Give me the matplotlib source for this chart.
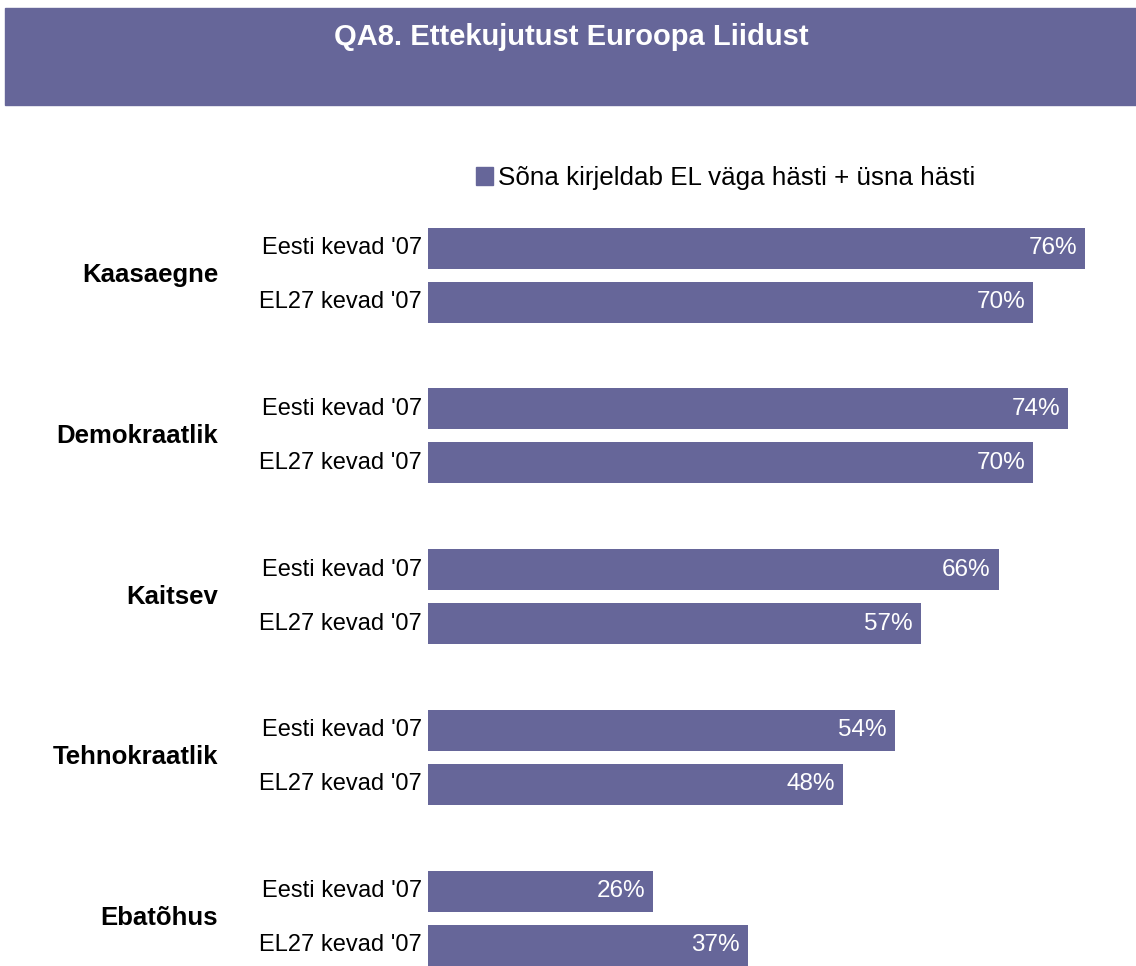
import matplotlib.pyplot as plt
from matplotlib.patches import Rectangle, Patch

plt.rcParams['font.family'] = ['Liberation Sans', 'DejaVu Sans']

title = "QA8. Ettekujutust Euroopa Liidust"
legend_label = "Sõna kirjeldab EL väga hästi + üsna hästi"
groups = ["Kaasaegne", "Demokraatlik", "Kaitsev", "Tehnokraatlik", "Ebatõhus"]
series = ["Eesti kevad '07", "EL27 kevad '07"]
eesti = [76, 74, 66, 54, 26]
el27 = [70, 70, 57, 48, 37]

color = "#666699"
W, H = 1136, 966
px_per_pct = 8.645

fig = plt.figure(figsize=(W / 100, H / 100), dpi=100)

# title band
fig.patches.append(Rectangle((5 / W, 1 - 105 / H), 1131 / W, 97 / H,
                             transform=fig.transFigure, color=color, zorder=0))
fig.text(571 / W, 1 - 37 / H, title, color="white", fontsize=21,
         fontweight="bold", ha="center", va="center")

ax = fig.add_axes([428 / W, 0, (W - 428) / W, 1])
ax.set_xlim(0, (W - 428) / px_per_pct)
ax.set_ylim(H, 0)
ax.axis("off")

for i, g in enumerate(groups):
    y0 = 248 + i * 160.75
    for j, vals in enumerate([eesti, el27]):
        y = y0 + j * 54
        v = vals[i]
        ax.barh(y, v, height=41, color=color)
        ax.text(v - 0.9, y, f"{v}%", color="white", fontsize=17.5,
                ha="right", va="center")
        ax.text(-6 / px_per_pct, y, series[j], fontsize=17,
                ha="right", va="center", clip_on=False)
    ax.text(-210 / px_per_pct, y0 + 27, g, fontsize=18.5, fontweight="bold",
            ha="right", va="center", clip_on=False)

fig.legend(handles=[Patch(color=color, label=legend_label)],
           loc="center left", bbox_to_anchor=(453 / W, 1 - 178 / H),
           frameon=False, fontsize=18.7, handlelength=0.65, handleheight=0.65,
           handletextpad=0.2)

fig.savefig("out.png", dpi=100)
